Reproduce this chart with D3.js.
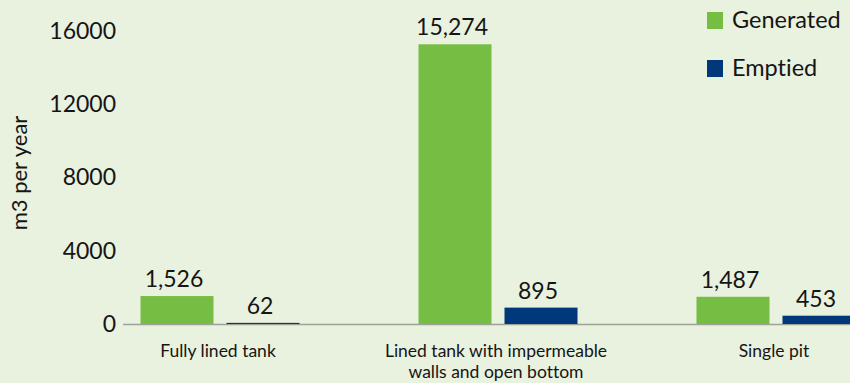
<!DOCTYPE html>
<html><head><meta charset="utf-8">
<script src="https://cdn.jsdelivr.net/npm/d3@7"></script>
<style>
html,body{margin:0;padding:0;background:#E9F1DF;}
svg{display:block;font-family:Lato, "Open Sans", sans-serif;font-variant-ligatures:none;}
</style></head>
<body><svg id="c" width="850" height="383"></svg>
<script>
const categories = [["Fully lined tank"], ["Lined tank with impermeable", "walls and open bottom"], ["Single pit"]];
const seriesNames = ["Generated", "Emptied"];
const generated = [1526, 15274, 1487];
const emptied = [62, 895, 453];
const yTicks = [0, 4000, 8000, 12000, 16000];
const yTitle = "m3 per year";
const colors = {Generated: "#76BD43", Emptied: "#00387A"};

const svg = d3.select("#c");
svg.append("rect").attr("width",850).attr("height",383).attr("fill","#E9F1DF");

const keys = categories.map((c,i)=>"c"+i);
const x0 = d3.scaleBand().domain(keys).range([81, 81 + 3*278]).paddingInner(0).paddingOuter(0);
const x1 = d3.scaleBand().domain(seriesNames).range([0, 159]).paddingInner(13/86).paddingOuter(0);
const y = d3.scaleLinear().domain([0, 16000]).range([324, 31]);
const off = (x0.bandwidth() - 159)/2;

const data = keys.map((k,i)=>({k, vals:[{s:"Generated", v:generated[i]},{s:"Emptied", v:emptied[i]}]}));

// axis line
svg.append("line").attr("x1",123).attr("x2",850).attr("y1",y(0)+0.5).attr("y2",y(0)+0.5)
  .attr("stroke","#9EA39A").attr("stroke-width",1.3);

// y axis labels
const yAxis = d3.axisLeft(y).tickValues(yTicks).tickSize(0).tickPadding(0).tickFormat(d3.format("d"));
const ga = svg.append("g").attr("transform","translate(116,0)").call(yAxis);
ga.select(".domain").remove();
ga.selectAll("text").attr("font-size",23).attr("fill","#151515").attr("font-family","Lato, sans-serif");

// bars
const groups = svg.selectAll("g.grp").data(data).join("g").attr("class","grp")
  .attr("transform", d=>`translate(${x0(d.k)+off},0)`);
groups.selectAll("rect").data(d=>d.vals).join("rect")
  .attr("x", d=>x1(d.s)).attr("width", x1.bandwidth())
  .attr("y", d=>y(d.v)).attr("height", d=>y(0)-y(d.v))
  .attr("fill", d=>colors[d.s]);
groups.selectAll("text").data(d=>d.vals).join("text")
  .attr("x", d=>x1(d.s)+x1.bandwidth()/2 - 3)
  .attr("y", d=>y(d.v)-9)
  .attr("text-anchor","middle").attr("font-size",23).attr("fill","#151515")
  .text(d=>d3.format(",")(d.v));

// category labels
categories.forEach((lines,i)=>{
  const cx = x0(keys[i]) + x0.bandwidth()/2 - 2;
  const t = svg.append("text").attr("text-anchor","middle").attr("font-size",17.5).attr("fill","#151515");
  lines.forEach((ln,j)=>{
    t.append("tspan").attr("x",cx).attr("y",357 + j*21).text(ln);
  });
});

// y title
svg.append("text").attr("transform","translate(27,173) rotate(-90)")
  .attr("text-anchor","middle").attr("font-size",22).attr("fill","#151515").text(yTitle);

// legend
const lg = svg.append("g");
seriesNames.forEach((s,i)=>{
  const yy = 12 + i*48;
  lg.append("rect").attr("x",707).attr("y",yy).attr("width",16).attr("height",17).attr("fill",colors[s]);
  lg.append("text").attr("x",732).attr("y",yy+16).attr("font-size",23.5).attr("fill","#151515").text(s);
});
</script></body></html>
